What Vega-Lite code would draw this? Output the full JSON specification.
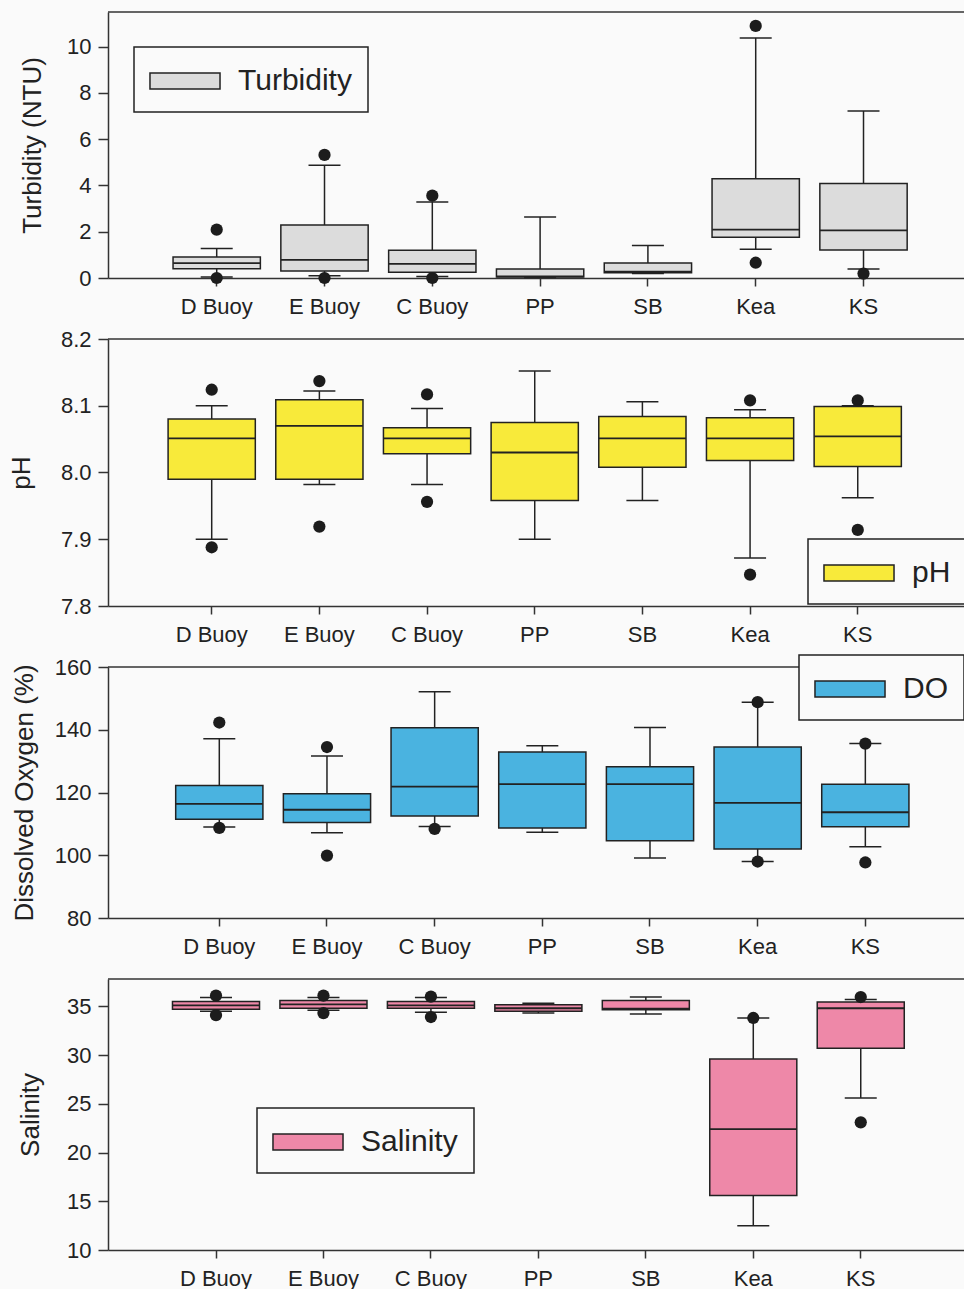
{
  "$schema": "https://vega.github.io/schema/vega-lite/v6.json",
  "background": "#fafafa",
  "padding": {"top": 11, "left": 8, "right": 0, "bottom": 0},
  "bounds": "flush",
  "spacing": 61,
  "datasets": {
    "turb": [
      {"site": "D Buoy", "lo": 0.04, "q1": 0.40, "med": 0.64, "q3": 0.91, "hi": 1.27, "param": "Turbidity"},
      {"site": "E Buoy", "lo": 0.10, "q1": 0.30, "med": 0.78, "q3": 2.29, "hi": 4.87, "param": "Turbidity"},
      {"site": "C Buoy", "lo": 0.06, "q1": 0.25, "med": 0.61, "q3": 1.20, "hi": 3.29, "param": "Turbidity"},
      {"site": "PP", "lo": 0.02, "q1": 0.04, "med": 0.07, "q3": 0.39, "hi": 2.64, "param": "Turbidity"},
      {"site": "SB", "lo": 0.19, "q1": 0.23, "med": 0.27, "q3": 0.65, "hi": 1.40, "param": "Turbidity"},
      {"site": "Kea", "lo": 1.24, "q1": 1.76, "med": 2.09, "q3": 4.29, "hi": 10.38, "param": "Turbidity"},
      {"site": "KS", "lo": 0.39, "q1": 1.21, "med": 2.06, "q3": 4.09, "hi": 7.22, "param": "Turbidity"}
    ],
    "turbOut": [
      {"site": "D Buoy", "v": 2.09}, {"site": "D Buoy", "v": 0.0},
      {"site": "E Buoy", "v": 5.32}, {"site": "E Buoy", "v": 0.0},
      {"site": "C Buoy", "v": 3.56}, {"site": "C Buoy", "v": 0.0},
      {"site": "Kea", "v": 10.9}, {"site": "Kea", "v": 0.66},
      {"site": "KS", "v": 0.19}
    ],
    "ph": [
      {"site": "D Buoy", "lo": 7.900, "q1": 7.990, "med": 8.051, "q3": 8.080, "hi": 8.100, "param": "pH"},
      {"site": "E Buoy", "lo": 7.982, "q1": 7.990, "med": 8.070, "q3": 8.109, "hi": 8.122, "param": "pH"},
      {"site": "C Buoy", "lo": 7.982, "q1": 8.028, "med": 8.051, "q3": 8.067, "hi": 8.096, "param": "pH"},
      {"site": "PP", "lo": 7.900, "q1": 7.958, "med": 8.030, "q3": 8.075, "hi": 8.152, "param": "pH"},
      {"site": "SB", "lo": 7.958, "q1": 8.008, "med": 8.051, "q3": 8.084, "hi": 8.106, "param": "pH"},
      {"site": "Kea", "lo": 7.872, "q1": 8.018, "med": 8.051, "q3": 8.082, "hi": 8.094, "param": "pH"},
      {"site": "KS", "lo": 7.962, "q1": 8.009, "med": 8.054, "q3": 8.099, "hi": 8.100, "param": "pH"}
    ],
    "phOut": [
      {"site": "D Buoy", "v": 8.124}, {"site": "D Buoy", "v": 7.888},
      {"site": "E Buoy", "v": 8.137}, {"site": "E Buoy", "v": 7.919},
      {"site": "C Buoy", "v": 8.117}, {"site": "C Buoy", "v": 7.956},
      {"site": "Kea", "v": 8.108}, {"site": "Kea", "v": 7.847},
      {"site": "KS", "v": 8.108}, {"site": "KS", "v": 7.914}
    ],
    "do": [
      {"site": "D Buoy", "lo": 109.0, "q1": 111.5, "med": 116.4, "q3": 122.2, "hi": 137.1, "param": "DO"},
      {"site": "E Buoy", "lo": 107.2, "q1": 110.4, "med": 114.5, "q3": 119.6, "hi": 131.6, "param": "DO"},
      {"site": "C Buoy", "lo": 109.2, "q1": 112.5, "med": 121.9, "q3": 140.6, "hi": 152.1, "param": "DO"},
      {"site": "PP", "lo": 107.3, "q1": 108.7, "med": 122.7, "q3": 132.9, "hi": 134.9, "param": "DO"},
      {"site": "SB", "lo": 99.1, "q1": 104.6, "med": 122.7, "q3": 128.2, "hi": 140.7, "param": "DO"},
      {"site": "Kea", "lo": 98.0, "q1": 102.0, "med": 116.7, "q3": 134.5, "hi": 148.8, "param": "DO"},
      {"site": "KS", "lo": 102.7, "q1": 109.1, "med": 113.7, "q3": 122.6, "hi": 135.6, "param": "DO"}
    ],
    "doOut": [
      {"site": "D Buoy", "v": 142.3}, {"site": "D Buoy", "v": 108.7},
      {"site": "E Buoy", "v": 134.5}, {"site": "E Buoy", "v": 99.9},
      {"site": "C Buoy", "v": 108.4},
      {"site": "Kea", "v": 148.8}, {"site": "Kea", "v": 98.0},
      {"site": "KS", "v": 135.6}, {"site": "KS", "v": 97.7}
    ],
    "sal": [
      {"site": "D Buoy", "lo": 34.5, "q1": 34.7, "med": 35.1, "q3": 35.5, "hi": 35.9, "param": "Salinity"},
      {"site": "E Buoy", "lo": 34.6, "q1": 34.8, "med": 35.2, "q3": 35.6, "hi": 35.9, "param": "Salinity"},
      {"site": "C Buoy", "lo": 34.4, "q1": 34.8, "med": 35.1, "q3": 35.5, "hi": 35.9, "param": "Salinity"},
      {"site": "PP", "lo": 34.3, "q1": 34.5, "med": 34.8, "q3": 35.15, "hi": 35.3, "param": "Salinity"},
      {"site": "SB", "lo": 34.2, "q1": 34.65, "med": 34.75, "q3": 35.6, "hi": 35.95, "param": "Salinity"},
      {"site": "Kea", "lo": 12.5, "q1": 15.6, "med": 22.4, "q3": 29.6, "hi": 33.8, "param": "Salinity"},
      {"site": "KS", "lo": 25.6, "q1": 30.7, "med": 34.8, "q3": 35.45, "hi": 35.7, "param": "Salinity"}
    ],
    "salOut": [
      {"site": "D Buoy", "v": 36.1}, {"site": "D Buoy", "v": 34.1},
      {"site": "E Buoy", "v": 36.1}, {"site": "E Buoy", "v": 34.3},
      {"site": "C Buoy", "v": 36.0}, {"site": "C Buoy", "v": 33.9},
      {"site": "Kea", "v": 33.8},
      {"site": "KS", "v": 35.95}, {"site": "KS", "v": 23.1}
    ]
  },
  "vconcat": [
    {
      "width": 856, "height": 266,
      "layer": [
        {"data": {"values": [{"top": 11.5}]}, "mark": {"type": "rule", "color": "#333", "strokeWidth": 1.5},
         "encoding": {"y": {"field": "top", "type": "quantitative", "scale": {"domain": [0, 11.5], "nice": false, "zero": false}, "axis": {"title": "Turbidity (NTU)", "values": [0, 2, 4, 6, 8, 10], "titleX": -63}}}},
        {"data": {"name": "turb"}, "mark": {"type": "rule", "color": "#222", "strokeWidth": 1.5},
         "encoding": {
           "x": {"field": "site", "type": "nominal", "sort": ["D Buoy", "E Buoy", "C Buoy", "PP", "SB", "Kea", "KS"], "scale": {"paddingInner": 0.19, "paddingOuter": 0.5653, "align": 0.5337}, "axis": {"title": null}},
           "y": {"field": "lo", "type": "quantitative"}, "y2": {"field": "hi"}}},
        {"data": {"name": "turb"}, "mark": {"type": "bar", "stroke": "#222", "strokeWidth": 1.5},
         "encoding": {
           "x": {"field": "site", "type": "nominal", "sort": ["D Buoy", "E Buoy", "C Buoy", "PP", "SB", "Kea", "KS"]},
           "y": {"field": "q1", "type": "quantitative"}, "y2": {"field": "q3"},
           "color": {"field": "param", "type": "nominal", "scale": {"range": ["#dcdcdc"]}, "legend": {"legendX": 26, "legendY": 35}}}},
        {"data": {"name": "turb"}, "mark": {"type": "tick", "orient": "horizontal", "size": 87, "thickness": 1.8, "color": "#222", "opacity": 1},
         "encoding": {"x": {"field": "site", "type": "nominal", "sort": ["D Buoy", "E Buoy", "C Buoy", "PP", "SB", "Kea", "KS"]}, "y": {"field": "med", "type": "quantitative"}}},
        {"data": {"name": "turb"}, "mark": {"type": "tick", "orient": "horizontal", "size": 32, "thickness": 1.5, "color": "#222", "opacity": 1},
         "encoding": {"x": {"field": "site", "type": "nominal", "sort": ["D Buoy", "E Buoy", "C Buoy", "PP", "SB", "Kea", "KS"]}, "y": {"field": "lo", "type": "quantitative"}}},
        {"data": {"name": "turb"}, "mark": {"type": "tick", "orient": "horizontal", "size": 32, "thickness": 1.5, "color": "#222", "opacity": 1},
         "encoding": {"x": {"field": "site", "type": "nominal", "sort": ["D Buoy", "E Buoy", "C Buoy", "PP", "SB", "Kea", "KS"]}, "y": {"field": "hi", "type": "quantitative"}}},
        {"data": {"name": "turbOut"}, "mark": {"type": "circle", "size": 150, "color": "#1c1c1c", "opacity": 1},
         "encoding": {"x": {"field": "site", "type": "nominal", "sort": ["D Buoy", "E Buoy", "C Buoy", "PP", "SB", "Kea", "KS"]}, "y": {"field": "v", "type": "quantitative"}}}
      ]
    },
    {
      "width": 856, "height": 267,
      "layer": [
        {"data": {"values": [{"top": 8.2}]}, "mark": {"type": "rule", "color": "#333", "strokeWidth": 1.5},
         "encoding": {"y": {"field": "top", "type": "quantitative", "scale": {"domain": [7.8, 8.2], "nice": false, "zero": false}, "axis": {"title": "pH", "values": [7.8, 7.9, 8.0, 8.1, 8.2], "format": ".1f", "titleX": -74}}}},
        {"data": {"name": "ph"}, "mark": {"type": "rule", "color": "#222", "strokeWidth": 1.5},
         "encoding": {
           "x": {"field": "site", "type": "nominal", "sort": ["D Buoy", "E Buoy", "C Buoy", "PP", "SB", "Kea", "KS"], "scale": {"paddingInner": 0.19, "paddingOuter": 0.57, "align": 0.4896}, "axis": {"title": null}},
           "y": {"field": "lo", "type": "quantitative"}, "y2": {"field": "hi"}}},
        {"data": {"name": "ph"}, "mark": {"type": "bar", "stroke": "#222", "strokeWidth": 1.5},
         "encoding": {
           "x": {"field": "site", "type": "nominal", "sort": ["D Buoy", "E Buoy", "C Buoy", "PP", "SB", "Kea", "KS"]},
           "y": {"field": "q1", "type": "quantitative"}, "y2": {"field": "q3"},
           "color": {"field": "param", "type": "nominal", "scale": {"range": ["#f8ea3a"]}, "legend": {"legendX": 700, "legendY": 200}}}},
        {"data": {"name": "ph"}, "mark": {"type": "tick", "orient": "horizontal", "size": 87, "thickness": 1.8, "color": "#222", "opacity": 1},
         "encoding": {"x": {"field": "site", "type": "nominal", "sort": ["D Buoy", "E Buoy", "C Buoy", "PP", "SB", "Kea", "KS"]}, "y": {"field": "med", "type": "quantitative"}}},
        {"data": {"name": "ph"}, "mark": {"type": "tick", "orient": "horizontal", "size": 32, "thickness": 1.5, "color": "#222", "opacity": 1},
         "encoding": {"x": {"field": "site", "type": "nominal", "sort": ["D Buoy", "E Buoy", "C Buoy", "PP", "SB", "Kea", "KS"]}, "y": {"field": "lo", "type": "quantitative"}}},
        {"data": {"name": "ph"}, "mark": {"type": "tick", "orient": "horizontal", "size": 32, "thickness": 1.5, "color": "#222", "opacity": 1},
         "encoding": {"x": {"field": "site", "type": "nominal", "sort": ["D Buoy", "E Buoy", "C Buoy", "PP", "SB", "Kea", "KS"]}, "y": {"field": "hi", "type": "quantitative"}}},
        {"data": {"name": "phOut"}, "mark": {"type": "circle", "size": 150, "color": "#1c1c1c", "opacity": 1},
         "encoding": {"x": {"field": "site", "type": "nominal", "sort": ["D Buoy", "E Buoy", "C Buoy", "PP", "SB", "Kea", "KS"]}, "y": {"field": "v", "type": "quantitative"}}}
      ]
    },
    {
      "width": 856, "height": 251,
      "layer": [
        {"data": {"values": [{"top": 160}]}, "mark": {"type": "rule", "color": "#333", "strokeWidth": 1.5},
         "encoding": {"y": {"field": "top", "type": "quantitative", "scale": {"domain": [80, 160], "nice": false, "zero": false}, "axis": {"title": "Dissolved Oxygen (%)", "values": [80, 100, 120, 140, 160], "titleX": -71}}}},
        {"data": {"name": "do"}, "mark": {"type": "rule", "color": "#222", "strokeWidth": 1.5},
         "encoding": {
           "x": {"field": "site", "type": "nominal", "sort": ["D Buoy", "E Buoy", "C Buoy", "PP", "SB", "Kea", "KS"], "scale": {"paddingInner": 0.19, "paddingOuter": 0.57, "align": 0.5515}, "axis": {"title": null}},
           "y": {"field": "lo", "type": "quantitative"}, "y2": {"field": "hi"}}},
        {"data": {"name": "do"}, "mark": {"type": "bar", "stroke": "#222", "strokeWidth": 1.5},
         "encoding": {
           "x": {"field": "site", "type": "nominal", "sort": ["D Buoy", "E Buoy", "C Buoy", "PP", "SB", "Kea", "KS"]},
           "y": {"field": "q1", "type": "quantitative"}, "y2": {"field": "q3"},
           "color": {"field": "param", "type": "nominal", "scale": {"range": ["#4ab3e0"]}, "legend": {"legendX": 691, "legendY": -12}}}},
        {"data": {"name": "do"}, "mark": {"type": "tick", "orient": "horizontal", "size": 87, "thickness": 1.8, "color": "#222", "opacity": 1},
         "encoding": {"x": {"field": "site", "type": "nominal", "sort": ["D Buoy", "E Buoy", "C Buoy", "PP", "SB", "Kea", "KS"]}, "y": {"field": "med", "type": "quantitative"}}},
        {"data": {"name": "do"}, "mark": {"type": "tick", "orient": "horizontal", "size": 32, "thickness": 1.5, "color": "#222", "opacity": 1},
         "encoding": {"x": {"field": "site", "type": "nominal", "sort": ["D Buoy", "E Buoy", "C Buoy", "PP", "SB", "Kea", "KS"]}, "y": {"field": "lo", "type": "quantitative"}}},
        {"data": {"name": "do"}, "mark": {"type": "tick", "orient": "horizontal", "size": 32, "thickness": 1.5, "color": "#222", "opacity": 1},
         "encoding": {"x": {"field": "site", "type": "nominal", "sort": ["D Buoy", "E Buoy", "C Buoy", "PP", "SB", "Kea", "KS"]}, "y": {"field": "hi", "type": "quantitative"}}},
        {"data": {"name": "doOut"}, "mark": {"type": "circle", "size": 150, "color": "#1c1c1c", "opacity": 1},
         "encoding": {"x": {"field": "site", "type": "nominal", "sort": ["D Buoy", "E Buoy", "C Buoy", "PP", "SB", "Kea", "KS"]}, "y": {"field": "v", "type": "quantitative"}}}
      ]
    },
    {
      "width": 856, "height": 271,
      "layer": [
        {"data": {"values": [{"top": 37.8}]}, "mark": {"type": "rule", "color": "#333", "strokeWidth": 1.5},
         "encoding": {"y": {"field": "top", "type": "quantitative", "scale": {"domain": [10, 37.8], "nice": false, "zero": false}, "axis": {"title": "Salinity", "values": [10, 15, 20, 25, 30, 35], "titleX": -65}}}},
        {"data": {"name": "sal"}, "mark": {"type": "rule", "color": "#222", "strokeWidth": 1.5},
         "encoding": {
           "x": {"field": "site", "type": "nominal", "sort": ["D Buoy", "E Buoy", "C Buoy", "PP", "SB", "Kea", "KS"], "scale": {"paddingInner": 0.19, "paddingOuter": 0.578, "align": 0.5191}, "axis": {"title": null}},
           "y": {"field": "lo", "type": "quantitative"}, "y2": {"field": "hi"}}},
        {"data": {"name": "sal"}, "mark": {"type": "bar", "stroke": "#222", "strokeWidth": 1.5},
         "encoding": {
           "x": {"field": "site", "type": "nominal", "sort": ["D Buoy", "E Buoy", "C Buoy", "PP", "SB", "Kea", "KS"]},
           "y": {"field": "q1", "type": "quantitative"}, "y2": {"field": "q3"},
           "color": {"field": "param", "type": "nominal", "scale": {"range": ["#ee88a8"]}, "legend": {"legendX": 149, "legendY": 129}}}},
        {"data": {"name": "sal"}, "mark": {"type": "tick", "orient": "horizontal", "size": 87, "thickness": 1.8, "color": "#222", "opacity": 1},
         "encoding": {"x": {"field": "site", "type": "nominal", "sort": ["D Buoy", "E Buoy", "C Buoy", "PP", "SB", "Kea", "KS"]}, "y": {"field": "med", "type": "quantitative"}}},
        {"data": {"name": "sal"}, "mark": {"type": "tick", "orient": "horizontal", "size": 32, "thickness": 1.5, "color": "#222", "opacity": 1},
         "encoding": {"x": {"field": "site", "type": "nominal", "sort": ["D Buoy", "E Buoy", "C Buoy", "PP", "SB", "Kea", "KS"]}, "y": {"field": "lo", "type": "quantitative"}}},
        {"data": {"name": "sal"}, "mark": {"type": "tick", "orient": "horizontal", "size": 32, "thickness": 1.5, "color": "#222", "opacity": 1},
         "encoding": {"x": {"field": "site", "type": "nominal", "sort": ["D Buoy", "E Buoy", "C Buoy", "PP", "SB", "Kea", "KS"]}, "y": {"field": "hi", "type": "quantitative"}}},
        {"data": {"name": "salOut"}, "mark": {"type": "circle", "size": 150, "color": "#1c1c1c", "opacity": 1},
         "encoding": {"x": {"field": "site", "type": "nominal", "sort": ["D Buoy", "E Buoy", "C Buoy", "PP", "SB", "Kea", "KS"]}, "y": {"field": "v", "type": "quantitative"}}}
      ]
    }
  ],
  "resolve": {"scale": {"color": "independent"}, "legend": {"color": "independent"}},
  "config": {
    "font": "Liberation Sans",
    "view": {"stroke": null},
    "axis": {"labelFont": "Liberation Sans", "labelFontSize": 22, "labelColor": "#222", "titleFont": "Liberation Sans", "titleFontSize": 26, "titleFontWeight": "normal", "titleColor": "#222", "domainColor": "#333", "domainWidth": 1.5, "tickColor": "#333", "tickWidth": 1.5, "grid": false},
    "axisX": {"tickSize": 8, "labelPadding": 10, "labelAngle": 0},
    "axisY": {"tickSize": 10, "labelPadding": 7},
    "legend": {"orient": "none", "title": null, "padding": 16, "strokeColor": "#222", "strokeWidth": 1.5, "fillColor": "#fafafa", "symbolType": "M-1.06,-0.47H3.06V0.47H-1.06Z", "symbolSize": 1156, "symbolStrokeColor": "#222", "symbolStrokeWidth": 1.5, "symbolOpacity": 1, "labelFont": "Liberation Sans", "labelFontSize": 30, "labelOffset": 52, "labelColor": "#222", "labelLimit": 300}
  }
}
